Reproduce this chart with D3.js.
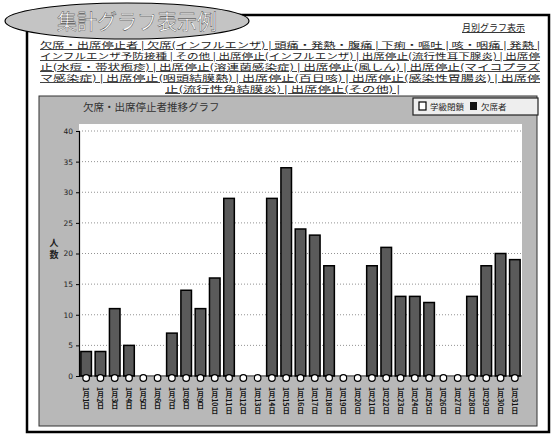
<!DOCTYPE html>
<html><head><meta charset="utf-8">
<script src="https://cdn.jsdelivr.net/npm/d3@7"></script>
<style>
html,body{margin:0;padding:0;background:#fff;}
text{font-family:"Noto Sans CJK JP","Noto Sans",sans-serif;}
</style></head>
<body><svg id="c" width="555" height="440"></svg>
<script>
// ---- data ----
const categories = ["1月1日","1月2日","1月3日","1月4日","1月5日","1月6日","1月7日","1月8日","1月9日","1月10日",
  "1月11日","1月12日","1月13日","1月14日","1月15日","1月16日","1月17日","1月18日","1月19日","1月20日",
  "1月21日","1月22日","1月23日","1月24日","1月25日","1月26日","1月27日","1月28日","1月29日","1月30日","1月31日"];
const absentees = [4,4,11,5,0,0,7,14,11,16,29,0,0,29,34,24,23,18,0,0,18,21,13,13,12,0,0,13,18,20,19];
const closures  = [0,0,0,0,0,0,0,0,0,0,0,0,0,0,0,0,0,0,0,0,0,0,0,0,0,0,0,0,0,0,0];
const yTicks = [0,5,10,15,20,25,30,35,40];
const seriesNames = ["学級閉鎖","欠席者"];
const pageTitle = "集計グラフ表示例";
const monthLink = "月別グラフ表示";
const chartTitle = "欠席・出席停止者推移グラフ";
const yTitle = ["人","数"];
const navLines = [
  "欠席・出席停止者 | 欠席(インフルエンザ) | 頭痛・発熱・腹痛 | 下痢・嘔吐 | 咳・咽痛 | 発熱 |",
  "インフルエンザ予防接種 | その他 | 出席停止(インフルエンザ) | 出席停止(流行性耳下腺炎) | 出席停",
  "止(水痘・帯状疱疹) | 出席停止(溶連菌感染症) | 出席停止(風しん) | 出席停止(マイコプラズ",
  "マ感染症) | 出席停止(咽頭結膜熱) | 出席停止(百日咳) | 出席停止(感染性胃腸炎) | 出席停",
  "止(流行性角結膜炎) | 出席停止(その他) |"
];

const svg = d3.select("#c");

// outer box
svg.append("rect").attr("x",27).attr("y",15).attr("width",522).attr("height",417)
  .attr("fill","#fff").attr("stroke","#000").attr("stroke-width",2.5);

// title ellipse
svg.append("ellipse").attr("cx",127).attr("cy",21).attr("rx",122).attr("ry",18)
  .attr("fill","#c4c4c4").attr("stroke","#000").attr("stroke-width",1.2);
svg.append("text").attr("x",57).attr("y",29).attr("font-size",21)
  .attr("fill","#fff").attr("stroke","#222").attr("stroke-width",0.35)
  .attr("textLength",160).attr("lengthAdjust","spacingAndGlyphs").text(pageTitle);

svg.append("text").attr("x",462).attr("y",31).attr("font-size",9).attr("fill","#222")
  .attr("text-decoration","underline").text(monthLink);

// nav lines
const navY = [48,59,70,81,92];
navLines.forEach((t,i)=>{
  const last = i===navLines.length-1;
  svg.append("text").attr("x", last?165:40).attr("y",navY[i]).attr("font-size",8.5)
    .attr("fill","#222").attr("text-decoration","underline")
    .attr("textLength", last?235:500).attr("lengthAdjust","spacingAndGlyphs").text(t);
});

// panel
svg.append("rect").attr("x",39).attr("y",96).attr("width",498).attr("height",330)
  .attr("fill","#b8b8b8").attr("stroke","#333").attr("stroke-width",1);

svg.append("text").attr("x",83).attr("y",111).attr("font-size",10.5).attr("fill","#333").text(chartTitle);

// legend
const lg = svg.append("g");
lg.append("rect").attr("x",413).attr("y",98).attr("width",125).attr("height",17)
  .attr("fill","#eee").attr("stroke","#222").attr("stroke-width",1.2);
lg.append("rect").attr("x",419).attr("y",102).attr("width",7).attr("height",8)
  .attr("fill","#fff").attr("stroke","#000").attr("stroke-width",1.2);
lg.append("text").attr("x",430).attr("y",110).attr("font-size",8.5).attr("fill","#222").text(seriesNames[0]);
lg.append("rect").attr("x",470).attr("y",102).attr("width",7).attr("height",8).attr("fill","#111");
lg.append("text").attr("x",481).attr("y",110).attr("font-size",8.5).attr("fill","#222").text(seriesNames[1]);

// plot
const L=79, R=522, T=124, B=377;
const x = d3.scaleBand().domain(categories).range([L,R]).paddingInner(0.26).paddingOuter(0.13);
const y = d3.scaleLinear().domain([0,40]).range([376,131]);

svg.append("rect").attr("x",L).attr("y",T).attr("width",R-L).attr("height",B-T).attr("fill","#fff");

// gridlines
svg.append("g").selectAll("line").data(yTicks.filter(d=>d>0)).join("line")
  .attr("x1",L).attr("x2",R).attr("y1",d=>y(d)).attr("y2",d=>y(d))
  .attr("stroke","#777").attr("stroke-width",0.8).attr("stroke-dasharray","1,2");

// y axis
const ya = svg.append("g").attr("transform",`translate(${L},0)`)
  .call(d3.axisLeft(y).tickValues(yTicks).tickSize(3).tickPadding(3));
ya.select(".domain").attr("stroke","#000").attr("stroke-width",1.2);
ya.selectAll("line").attr("stroke","#000");
ya.selectAll("text").attr("font-size",7.5).attr("fill","#222")
  .style("font-family",'"DejaVu Sans",sans-serif');

// y title
svg.append("g").selectAll("text").data(yTitle).join("text")
  .attr("x",54).attr("y",(d,i)=>246+i*12).attr("text-anchor","middle")
  .attr("font-size",9).attr("font-weight","bold").attr("fill","#222").text(d=>d);

// bars
svg.append("g").selectAll("rect").data(absentees).join("rect")
  .attr("x",(d,i)=>x(categories[i])).attr("width",x.bandwidth())
  .attr("y",d=>y(d)).attr("height",d=>y(0)-y(d))
  .attr("fill","#5a5a5a").attr("stroke","#000").attr("stroke-width",1.5)
  .attr("visibility",d=>d>0?"visible":"hidden");

// x baseline
svg.append("line").attr("x1",L).attr("x2",R).attr("y1",y(0)).attr("y2",y(0))
  .attr("stroke","#000").attr("stroke-width",1);

// closure markers (line series at zero)
svg.append("g").selectAll("circle").data(closures).join("circle")
  .attr("cx",(d,i)=>x(categories[i])+x.bandwidth()/2).attr("cy",d=>y(d)+2)
  .attr("r",3.3).attr("fill","#fff").attr("stroke","#000").attr("stroke-width",1.2);

// x labels (vertical)
svg.append("g").selectAll("text").data(categories).join("text")
  .attr("x",d=>x(d)+x.bandwidth()/2).attr("y",387)
  .style("writing-mode","vertical-rl")
  .attr("font-size",7).attr("fill","#111").attr("font-weight","bold")
  .text(d=>d);
</script></body></html>
